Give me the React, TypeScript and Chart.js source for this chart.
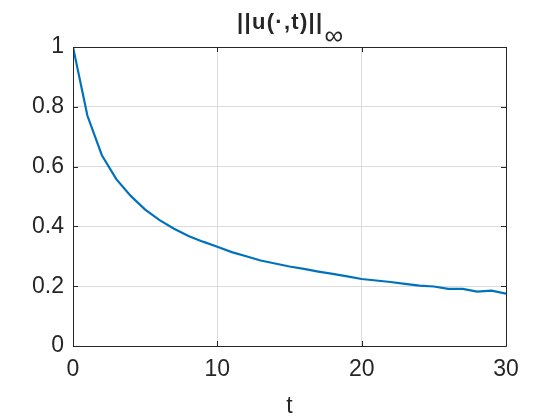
import React, { useEffect, useRef } from "react";
import { Chart, registerables } from "chart.js";

Chart.register(...registerables);

const tValues = [0, 1, 2, 3, 4, 5, 6, 7, 8, 9, 10, 11, 12, 13, 14, 15, 16, 17, 18, 19, 20, 21, 22, 23, 24, 25, 26, 27, 28, 29, 30];
const uInf = [1, 0.77, 0.638, 0.558, 0.502, 0.456, 0.421, 0.392, 0.368, 0.349, 0.332, 0.314, 0.3, 0.286, 0.276, 0.266, 0.258, 0.249, 0.241, 0.233, 0.224, 0.219, 0.214, 0.208, 0.202, 0.199, 0.191, 0.191, 0.182, 0.185, 0.175];
const xTicks = [0, 10, 20, 30];
const yTicks = [0, 0.2, 0.4, 0.6, 0.8, 1];
const titleMain = "||u(·,t)||";
const titleSub = "∞";
const xLabel = "t";

const FONT = "'Liberation Sans', Arial, Helvetica, sans-serif";
const DARK = "#262626";

const framePlugin = {
  id: "frame",
  afterDraw(chart: any) {
    const { ctx, chartArea } = chart;
    const { left, right, top, bottom } = chartArea;
    const xs = chart.scales.x;
    const ys = chart.scales.y;
    ctx.save();
    ctx.strokeStyle = DARK;
    ctx.lineWidth = 1;
    ctx.beginPath();
    ctx.rect(Math.round(left) + 0.5, Math.round(top) + 0.5, Math.round(right - left), Math.round(bottom - top));
    ctx.stroke();
    const tl = 5;
    ctx.beginPath();
    for (const v of xTicks) {
      const px = Math.round(xs.getPixelForValue(v)) + 0.5;
      ctx.moveTo(px, bottom);
      ctx.lineTo(px, bottom - tl);
      ctx.moveTo(px, top);
      ctx.lineTo(px, top + tl);
    }
    for (const v of yTicks) {
      const py = Math.round(ys.getPixelForValue(v)) + 0.5;
      ctx.moveTo(left, py);
      ctx.lineTo(left + tl, py);
      ctx.moveTo(right, py);
      ctx.lineTo(right - tl, py);
    }
    ctx.stroke();

    // title
    ctx.fillStyle = DARK;
    ctx.textBaseline = "alphabetic";
    ctx.textAlign = "left";
    const mainFont = `bold 22px ${FONT}`;
    const subFont = `26px ${FONT}`;
    (ctx as any).letterSpacing = "1.3px";
    ctx.font = mainFont;
    const wMain = ctx.measureText(titleMain).width;
    (ctx as any).letterSpacing = "0px";
    ctx.font = subFont;
    const wSub = ctx.measureText(titleSub).width;
    const cx = (left + right) / 2;
    const startX = cx - (wMain + wSub) / 2;
    (ctx as any).letterSpacing = "1.3px";
    ctx.font = mainFont;
    ctx.fillText(titleMain, startX, 29);
    (ctx as any).letterSpacing = "0px";
    ctx.font = subFont;
    ctx.fillText(titleSub, startX + wMain + 1, 44);

    // x label
    ctx.font = `23px ${FONT}`;
    ctx.textAlign = "center";
    ctx.fillText(xLabel, cx, 413);
    ctx.restore();
  },
};

export default function App() {
  const ref = useRef<HTMLCanvasElement>(null);
  useEffect(() => {
    if (!ref.current) return;
    const chart = new Chart(ref.current, {
      type: "line",
      data: {
        labels: tValues,
        datasets: [
          {
            data: tValues.map((t, i) => ({ x: t, y: uInf[i] })),
            borderColor: "#0072BD",
            borderWidth: 2.2,
            pointRadius: 0,
            fill: false,
            tension: 0,
          },
        ],
      },
      options: {
        animation: false,
        responsive: false,
        layout: { padding: { top: 47, right: 54, left: 0, bottom: 0 } },
        plugins: { legend: { display: false }, tooltip: { enabled: false }, title: { display: false } },
        scales: {
          x: {
            type: "linear",
            min: 0,
            max: 30,
            afterBuildTicks: (s: any) => { s.ticks = xTicks.map((v) => ({ value: v })); },
            afterFit: (s: any) => { s.height = 74; },
            grid: { color: "#dcdcdc", drawTicks: false, lineWidth: 1 },
            border: { display: false },
            ticks: { color: DARK, font: { size: 23, family: FONT }, padding: 10, maxRotation: 0 },
          },
          y: {
            type: "linear",
            min: 0,
            max: 1,
            afterBuildTicks: (s: any) => { s.ticks = yTicks.map((v) => ({ value: v })); },
            afterFit: (s: any) => { s.width = 73; },
            grid: { color: "#dcdcdc", drawTicks: false, lineWidth: 1 },
            border: { display: false },
            ticks: { color: DARK, font: { size: 23, family: FONT }, padding: 9, callback: (v: any) => String(v) },
          },
        },
      },
      plugins: [framePlugin],
    });
    return () => chart.destroy();
  }, []);
  return (
    <div style={{ position: "absolute", left: 0, top: 0, width: 560, height: 420, background: "#fff" }}>
      <canvas ref={ref} width={560} height={420} style={{ width: 560, height: 420 }} />
    </div>
  );
}
